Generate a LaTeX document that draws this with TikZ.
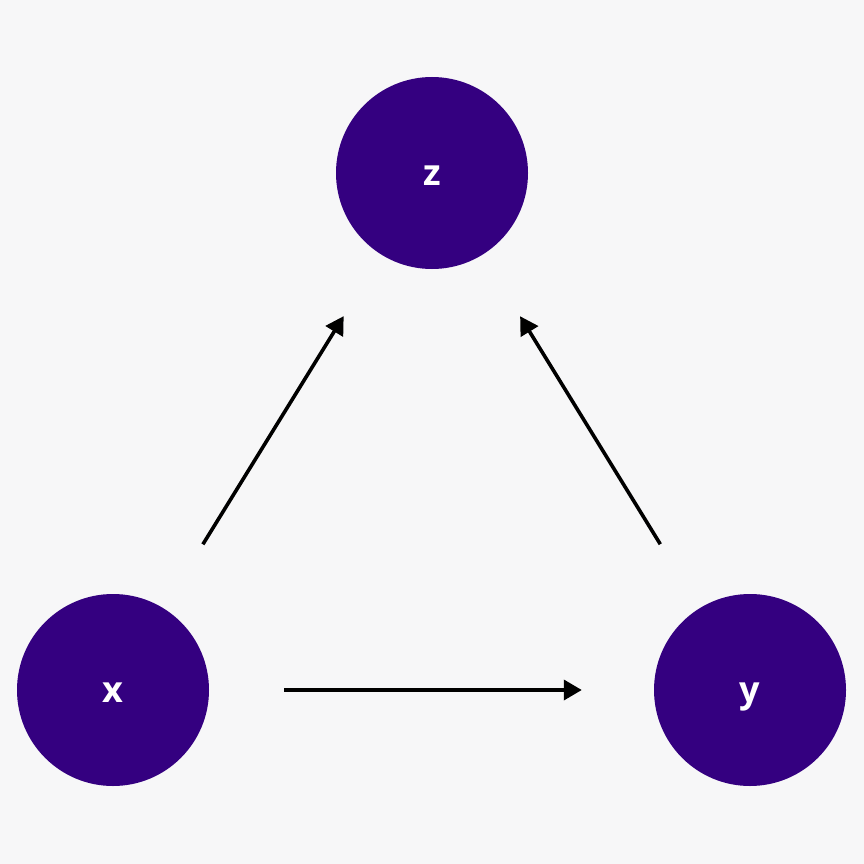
\documentclass[tikz,border=0pt]{standalone}
\usepackage{fontspec}
\setmainfont{Open Sans}
\usetikzlibrary{arrows.meta}
\definecolor{bgcol}{HTML}{F7F7F8}
\definecolor{nodecol}{HTML}{340080}
\tikzset{
  var/.style={circle, fill=nodecol, minimum size=192pt, inner sep=0pt,
    text=white, text height=25pt, text depth=0pt,
    font=\bfseries\fontsize{36}{36}\selectfont},
  edge/.style={line width=3.6pt, -{Triangle[length=18pt,width=20pt]}}
}
\begin{document}
\begin{tikzpicture}[x=1pt,y=-1pt]
  \fill[bgcol] (0,0) rectangle (864,864);
  \useasboundingbox (0,0) rectangle (864,864);
  \begin{scope}
    \clip (0,0) rectangle (846,864);
    \node[var] (z) at (432,173) {z};
    \node[var] (x) at (113,690) {x};
    \node[var] (y) at (750,690) {y};
  \end{scope}
  \draw[edge, shorten <=75pt, shorten >=72pt] (x) -- (y);
  \draw[edge, shorten <=75pt, shorten >=72pt] (x) -- (z);
  \draw[edge, shorten <=75pt, shorten >=72pt] (y) -- (z);
\end{tikzpicture}
\end{document}
